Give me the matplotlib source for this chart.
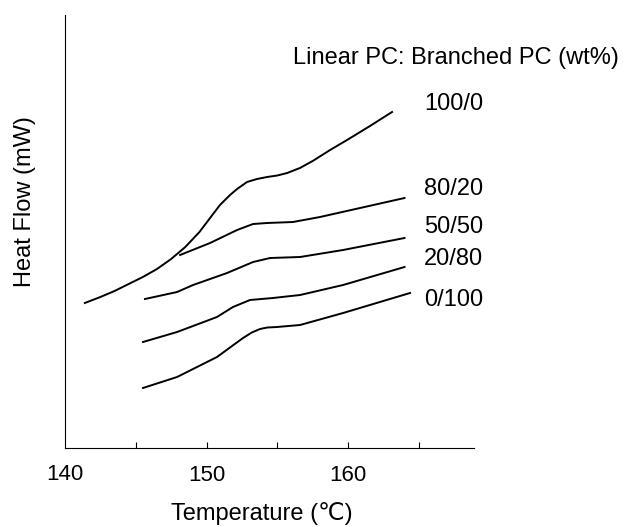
import matplotlib.pyplot as plt

plt.rcParams['font.family'] = ['Liberation Sans', 'DejaVu Sans']

# DSC traces (temperature in deg C, heat flow in arbitrary offset units)
t_100_0 = [141.4, 142.5, 143.5, 144.5, 145.5, 146.5, 147.5, 148.5, 149.5,
           150.25, 150.95, 151.66, 152.16, 152.86, 153.57, 154.28, 155.0, 155.7,
           156.6, 157.5, 158.73, 159.93, 161.55, 163.11]
hf_100_0 = [145, 151, 157, 164, 171, 179, 189, 201, 216,
            230, 243, 253, 259, 266, 269, 271, 272.5, 275,
            280, 287, 298, 308, 322, 336]

t_80_20 = [148.13, 150.25, 152.16, 153.29, 154.28, 156.11, 158.02, 160.85, 163.99]
hf_80_20 = [193, 205, 218, 224, 225, 226, 231, 240, 250]

t_50_50 = [145.65, 147.92, 149.05, 151.45, 153.29, 154.49, 156.61, 159.65, 163.99]
hf_50_50 = [149, 156, 163, 175, 186, 190, 191, 198, 210]

t_20_80 = [145.51, 147.92, 150.74, 151.87, 153.07, 154.70, 156.61, 159.65, 163.99]
hf_20_80 = [106, 116, 131, 141, 148, 150, 153, 163, 181]

t_0_100 = [145.51, 147.92, 150.74, 152.58, 153.2, 153.78, 154.3, 154.98, 156.61, 159.65, 164.38]
hf_0_100 = [60, 71, 91, 110, 115.5, 119, 120.5, 121, 123, 135, 155]

ratios = ['100/0', '80/20', '50/50', '20/80', '0/100']
label_y = [344, 259, 221, 189, 148]

fig = plt.figure(figsize=(6.24, 5.27), dpi=100)
ax = fig.add_axes([65 / 624, 79 / 527, 409 / 624, 433 / 527])

for t, hf in [(t_100_0, hf_100_0), (t_80_20, hf_80_20), (t_50_50, hf_50_50),
              (t_20_80, hf_20_80), (t_0_100, hf_0_100)]:
    ax.plot(t, hf, color='black', lw=1.4, solid_joinstyle='round')

for r, y in zip(ratios, label_y):
    ax.text(165.35, y, r, fontsize=17, va='center', ha='left')

ax.text(156.1, 390, 'Linear PC: Branched PC (wt%)', fontsize=17, va='center', ha='left')

ax.set_xlim(140, 168.9)
ax.set_ylim(0, 433)
ax.spines['top'].set_visible(False)
ax.spines['right'].set_visible(False)
ax.set_yticks([])
ax.set_xticks([145, 150, 155, 160, 165])
ax.set_xticklabels(['', '150', '', '160', ''])
ax.tick_params(axis='x', direction='in', length=4, labelsize=16, pad=12)
ax.text(140, -26, '140', fontsize=16, ha='center', va='center')

ax.set_xlabel('Temperature (℃)', fontsize=17)
ax.xaxis.set_label_coords(0.48, -0.124)
ax.set_ylabel('Heat Flow (mW)', fontsize=17)
ax.yaxis.set_label_coords(-0.071, 0.57)

fig.savefig('out.png', dpi=100)
